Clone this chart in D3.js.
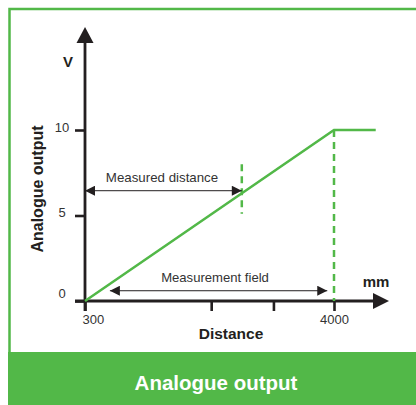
<!DOCTYPE html>
<html>
<head>
<meta charset="utf-8">
<script src="https://cdn.jsdelivr.net/npm/d3@7"></script>
<style>
  body { margin: 0; background: #fff; }
  svg { display: block; font-family: "Liberation Sans", Arial, sans-serif; }
</style>
</head>
<body>
<svg id="chart" width="416" height="405"></svg>
<script>
// output curve: distance (mm) -> analogue output (V)
var distance = [300, 4000, 4620];
var output = [0, 10, 10];
var yTicks = [0, 5, 10];
var xTicks = [300, 2175, 3100, 4000];
var xTickLabels = ["300", "", "", "4000"];
var rangeEnd = 4000;
var measuredDistance = 2630;
var measuredMarkOutput = [5.1, 8.0];
var measuredArrowOutput = 6.45;
var fieldArrow = [670, 3900];
var fieldArrowOutput = 0.6;

var green = "#52b848", dark = "#231f20";
var svg = d3.select("#chart");

var x = d3.scaleLinear().domain([300, 4000]).range([85, 334]);
var y = d3.scaleLinear().domain([0, 10]).range([301, 130]);

// frame + banner
svg.append("path")
  .attr("d", "M9.5,405 V9 H416")
  .attr("fill", "none").attr("stroke", green).attr("stroke-width", 2.5);
svg.append("rect")
  .attr("x", 8).attr("y", 352).attr("width", 408).attr("height", 53)
  .attr("fill", green);
svg.append("text")
  .attr("x", 216).attr("y", 390)
  .attr("text-anchor", "middle").attr("fill", "#fff")
  .style("font-weight", "bold").style("font-size", "20.5px")
  .text("Analogue output");

var defs = svg.append("defs");
defs.append("marker").attr("id", "ah")
  .attr("viewBox", "0 0 10 10").attr("refX", 10).attr("refY", 5)
  .attr("markerUnits", "userSpaceOnUse")
  .attr("markerWidth", 11).attr("markerHeight", 10)
  .attr("orient", "auto-start-reverse")
  .append("path").attr("d", "M0,0 L10,5 L0,10 Z").attr("fill", dark);

// axes
var xAxis = d3.axisBottom(x).tickValues(xTicks).tickSize(10).tickPadding(4)
  .tickFormat(function (d, i) { return xTickLabels[i]; });
var gx = svg.append("g").attr("transform", "translate(0," + y(0) + ")").call(xAxis);
gx.select(".domain").remove();
gx.selectAll(".tick line").attr("stroke", dark).attr("stroke-width", 2.6);
gx.selectAll(".tick text").attr("fill", "#333").style("font-size", "13px").style("font-family", null);
gx.selectAll(".tick text").filter(function (d, i) { return i === 0; })
  .attr("text-anchor", "start").attr("dx", -3);

var yAxis = d3.axisLeft(y).tickValues(yTicks).tickSize(10).tickPadding(0);
var gy = svg.append("g").attr("transform", "translate(" + x(300) + ",0)").call(yAxis);
gy.select(".domain").remove();
gy.selectAll(".tick line").attr("stroke", dark).attr("stroke-width", 2.6);
gy.selectAll(".tick text").attr("fill", "#333").attr("text-anchor", "middle")
  .attr("x", -23).attr("dy", function (d) { return d === 0 ? "-0.3em" : "0.1em"; })
  .style("font-size", "13px").style("font-family", null);

// axis lines with arrowheads
svg.append("line")
  .attr("x1", x(300) - 10).attr("x2", 373).attr("y1", y(0)).attr("y2", y(0))
  .attr("stroke", dark).attr("stroke-width", 2.8);
svg.append("path")
  .attr("d", "M373," + (y(0) - 8) + " L389," + y(0) + " L373," + (y(0) + 8) + " Z")
  .attr("fill", dark);
svg.append("line")
  .attr("x1", x(300)).attr("x2", x(300)).attr("y1", y(0) + 10).attr("y2", 42)
  .attr("stroke", dark).attr("stroke-width", 2.8);
svg.append("path")
  .attr("d", "M" + (x(300) - 8.5) + ",43 L" + x(300) + ",27 L" + (x(300) + 8.5) + ",43 Z")
  .attr("fill", dark);

// axis titles
svg.append("text").attr("x", 68).attr("y", 67).attr("text-anchor", "middle")
  .attr("fill", dark).style("font-weight", "bold").style("font-size", "15px").text("V");
svg.append("text").attr("x", 376).attr("y", 287).attr("text-anchor", "middle")
  .attr("fill", dark).style("font-weight", "bold").style("font-size", "15px").text("mm");
svg.append("text").attr("x", 231).attr("y", 339).attr("text-anchor", "middle")
  .attr("fill", dark).style("font-weight", "bold").style("font-size", "15.5px").text("Distance");
svg.append("text")
  .attr("transform", "translate(43,189) rotate(-90)")
  .attr("text-anchor", "middle").attr("fill", dark)
  .style("font-weight", "bold").style("font-size", "16px").text("Analogue output");

// dashed markers
svg.append("line")
  .attr("x1", x(rangeEnd)).attr("x2", x(rangeEnd)).attr("y1", y(10)).attr("y2", y(0))
  .attr("stroke", green).attr("stroke-width", 2.5).attr("stroke-dasharray", "7,5");
svg.append("line")
  .attr("x1", x(measuredDistance)).attr("x2", x(measuredDistance))
  .attr("y1", y(measuredMarkOutput[1])).attr("y2", y(measuredMarkOutput[0]))
  .attr("stroke", green).attr("stroke-width", 2.5).attr("stroke-dasharray", "7,5");

// output line
var line = d3.line()
  .x(function (d, i) { return x(distance[i]); })
  .y(function (d) { return y(d); });
svg.append("path").datum(output)
  .attr("d", line).attr("fill", "none")
  .attr("stroke", green).attr("stroke-width", 2.5);

// annotation arrows
svg.append("line")
  .attr("x1", x(300)).attr("x2", x(measuredDistance))
  .attr("y1", y(measuredArrowOutput)).attr("y2", y(measuredArrowOutput))
  .attr("stroke", dark).attr("stroke-width", 1)
  .attr("marker-start", "url(#ah)").attr("marker-end", "url(#ah)");
svg.append("text").attr("x", 162).attr("y", 182).attr("text-anchor", "middle")
  .attr("fill", "#333").style("font-size", "13.3px").text("Measured distance");

svg.append("line")
  .attr("x1", x(fieldArrow[0])).attr("x2", x(fieldArrow[1]))
  .attr("y1", y(fieldArrowOutput)).attr("y2", y(fieldArrowOutput))
  .attr("stroke", dark).attr("stroke-width", 1)
  .attr("marker-start", "url(#ah)").attr("marker-end", "url(#ah)");
svg.append("text").attr("x", 215).attr("y", 282).attr("text-anchor", "middle")
  .attr("fill", "#333").style("font-size", "13.1px").text("Measurement field");
</script>
</body>
</html>
